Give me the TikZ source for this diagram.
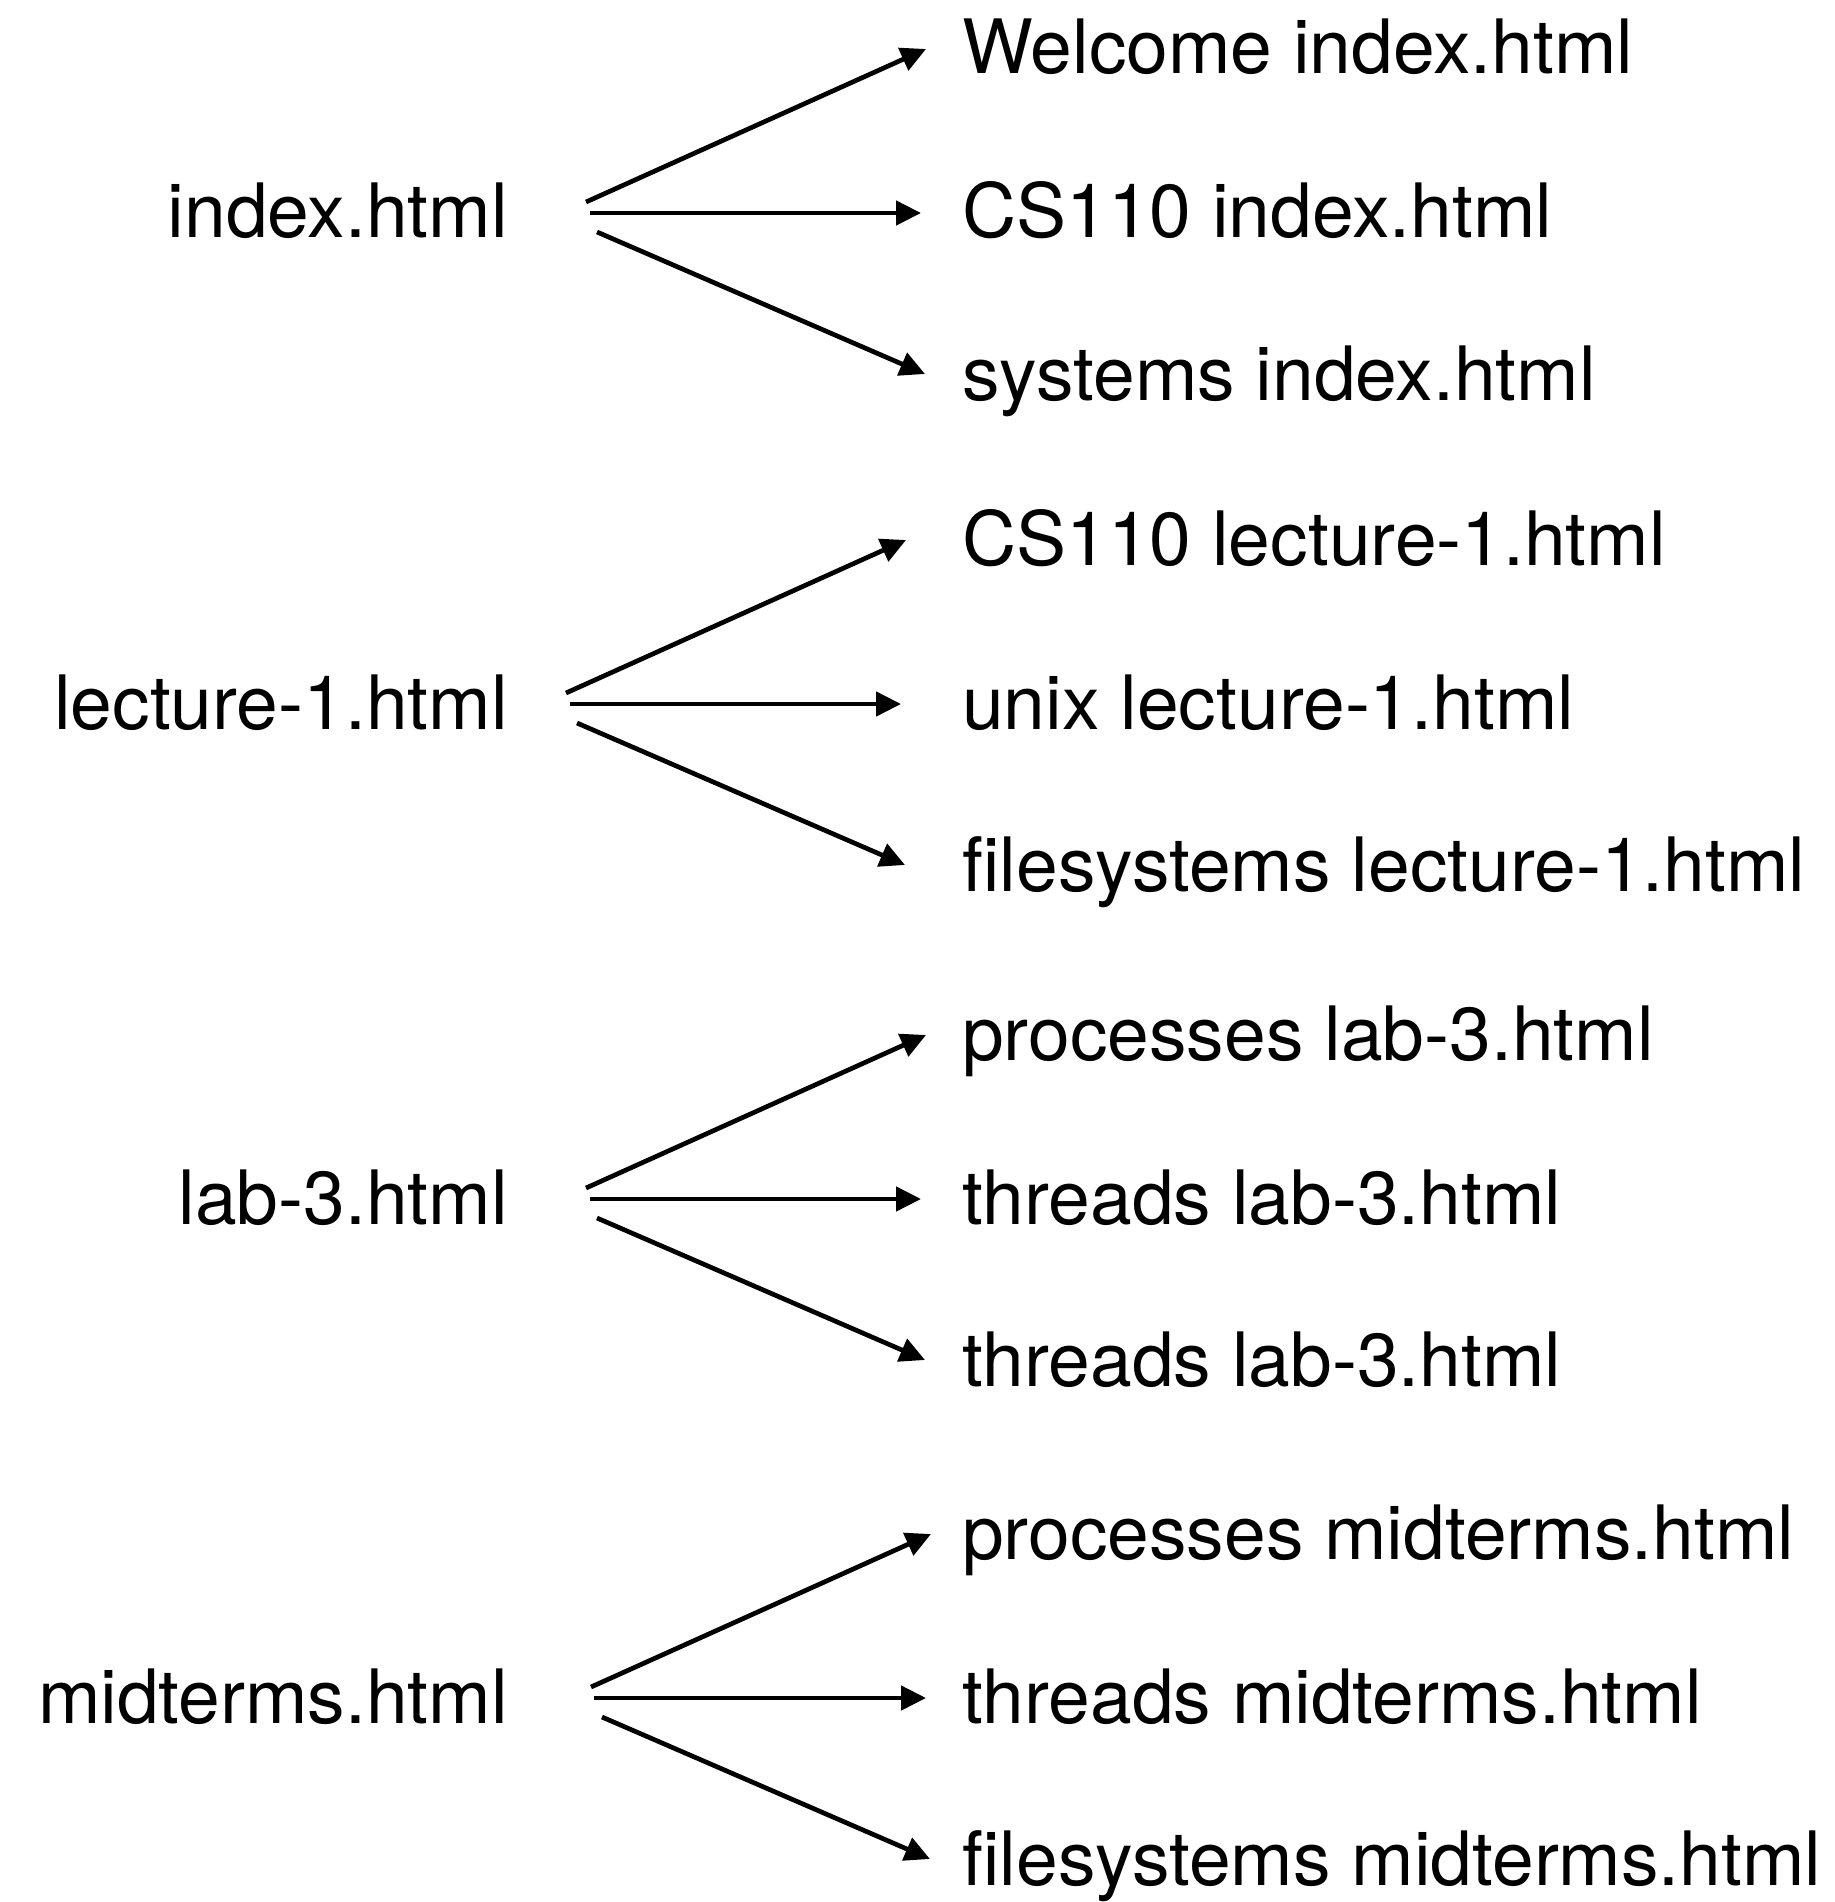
\documentclass[tikz,border=0pt]{standalone}
\usepackage{fontspec}
\setmainfont{TeX Gyre Heros}
\usetikzlibrary{arrows.meta}

\begin{document}
\begin{tikzpicture}[x=1pt, y=-1pt,
  lbl/.style={inner sep=0pt, font=\fontsize{75}{90}\selectfont},
  src/.style={lbl, anchor=base east},
  dst/.style={lbl, anchor=base west},
  link/.style={line width=4.7pt, -{Triangle[length=25pt,width=24pt]}}]
\useasboundingbox (0,0) rectangle (1834,1902);

% index.html
\node[src] (idx)   at (508, 238)  {index.html};
\node[dst] (idx-a) at (962, 74)   {Welcome index.html};
\node[dst] (idx-b) at (962, 238)  {CS110 index.html};
\node[dst] (idx-c) at (962, 400)  {systems index.html};
\draw[link] ([shift={(78,-36)}]idx.base east) -- ([shift={(-36,-25)}]idx-a.base west);
\draw[link] ([shift={(82,-25)}]idx.base east) -- ([shift={(-41,-25)}]idx-b.base west);
\draw[link] ([shift={(89,-6)}]idx.base east)  -- ([shift={(-37,-26)}]idx-c.base west);

% lecture-1.html
\node[src] (lec)   at (508, 729)  {lecture-1.html};
\node[dst] (lec-a) at (962, 565)  {CS110 lecture-1.html};
\node[dst] (lec-b) at (962, 729)  {unix lecture-1.html};
\node[dst] (lec-c) at (962, 891)  {filesystems lecture-1.html};
\draw[link] ([shift={(58,-36)}]lec.base east) -- ([shift={(-56,-25)}]lec-a.base west);
\draw[link] ([shift={(62,-25)}]lec.base east) -- ([shift={(-61,-25)}]lec-b.base west);
\draw[link] ([shift={(69,-6)}]lec.base east)  -- ([shift={(-57,-26)}]lec-c.base west);

% lab-3.html
\node[src] (lab)   at (508, 1224) {lab-3.html};
\node[dst] (lab-a) at (962, 1060) {processes lab-3.html};
\node[dst] (lab-b) at (962, 1224) {threads lab-3.html};
\node[dst] (lab-c) at (962, 1386) {threads lab-3.html};
\draw[link] ([shift={(78,-36)}]lab.base east) -- ([shift={(-36,-25)}]lab-a.base west);
\draw[link] ([shift={(82,-25)}]lab.base east) -- ([shift={(-41,-25)}]lab-b.base west);
\draw[link] ([shift={(89,-6)}]lab.base east)  -- ([shift={(-37,-26)}]lab-c.base west);

% midterms.html
\node[src] (mid)   at (508, 1723) {midterms.html};
\node[dst] (mid-a) at (962, 1559) {processes midterms.html};
\node[dst] (mid-b) at (962, 1723) {threads midterms.html};
\node[dst] (mid-c) at (962, 1885) {filesystems midterms.html};
\draw[link] ([shift={(83,-36)}]mid.base east) -- ([shift={(-31,-25)}]mid-a.base west);
\draw[link] ([shift={(86,-25)}]mid.base east) -- ([shift={(-36,-25)}]mid-b.base west);
\draw[link] ([shift={(94,-6)}]mid.base east)  -- ([shift={(-32,-26)}]mid-c.base west);
\end{tikzpicture}
\end{document}
